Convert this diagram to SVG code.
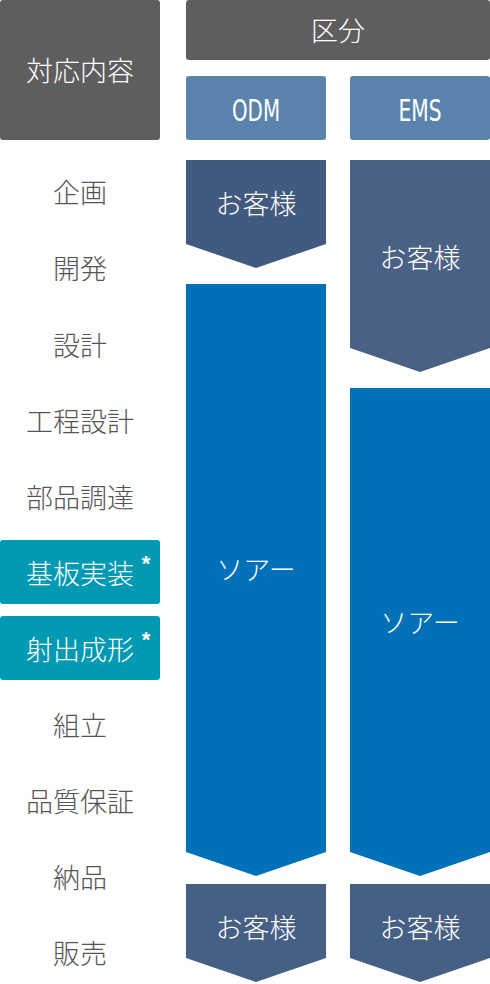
<svg xmlns="http://www.w3.org/2000/svg" width="490" height="984" viewBox="0 0 490 984">
<style>
.t{font-family:"Noto Sans CJK JP","Noto Sans",sans-serif;font-size:27px;font-weight:300;text-anchor:middle;dominant-baseline:central}
.w{fill:#ffffff}
.g{fill:#555555}
.hd{fill:#5e5e5e}
.sub{fill:#5b84ad}
.cu{fill:#465f85}
.so{fill:#0070b9}
.tl{fill:#0099b3}
.lat{font-family:"Liberation Sans Narrow","DejaVu Sans Condensed","Liberation Sans",sans-serif;font-size:30px;text-anchor:middle;fill:#fff}
.ast{font-family:"Liberation Sans",sans-serif;font-size:22px;font-weight:bold;text-anchor:middle;fill:#fff}
</style>
<g id="header-content"><rect class="hd" x="0" y="0" width="160" height="140" rx="3"/><text class="t w" x="80" y="69">対応内容</text></g>
<g id="header-kubun"><rect class="hd" x="186" y="0" width="304" height="60" rx="3"/><text class="t w" x="338" y="29">区分</text></g>
<g id="odm"><rect class="sub" x="186" y="76" width="140" height="64" rx="3"/><text class="lat" x="256" y="121" textLength="48" lengthAdjust="spacingAndGlyphs">ODM</text></g>
<g id="ems"><rect class="sub" x="350" y="76" width="140" height="64" rx="3"/><text class="lat" x="420" y="121" textLength="43" lengthAdjust="spacingAndGlyphs">EMS</text></g>
<g id="steps">
<text class="t g" x="80" y="191">企画</text>
<text class="t g" x="80" y="267">開発</text>
<text class="t g" x="80" y="344">設計</text>
<text class="t g" x="80" y="420">工程設計</text>
<text class="t g" x="80" y="496">部品調達</text>
<g id="kiban"><rect class="tl" x="0" y="540" width="160" height="64" rx="3"/><text class="t w" x="80" y="572">基板実装</text><text class="ast" x="146" y="571">*</text></g>
<g id="shashutsu"><rect class="tl" x="0" y="616" width="160" height="64" rx="3"/><text class="t w" x="80" y="648">射出成形</text><text class="ast" x="146" y="647">*</text></g>
<text class="t g" x="80" y="724">組立</text>
<text class="t g" x="80" y="800">品質保証</text>
<text class="t g" x="80" y="876">納品</text>
<text class="t g" x="80" y="952">販売</text>
</g>
<g id="odm-customer1"><polygon fill="#415a80" points="186,160 326,160 326,244 256,268 186,244"/><text class="t w" x="256" y="202">お客様</text></g>
<g id="ems-customer1"><polygon fill="#4a6186" points="350,160 490,160 490,348 420,372 350,348"/><text class="t w" x="420" y="256">お客様</text></g>
<g id="odm-soar"><polygon class="so" points="186,284 326,284 326,852 256,876 186,852"/><text class="t w" x="256" y="568">ソアー</text></g>
<g id="ems-soar"><polygon class="so" points="350,388 490,388 490,852 420,876 350,852"/><text class="t w" x="420" y="621">ソアー</text></g>
<g id="odm-customer2"><polygon class="cu" points="186,884 326,884 326,958 256,982 186,958"/><text class="t w" x="256" y="926">お客様</text></g>
<g id="ems-customer2"><polygon class="cu" points="350,884 490,884 490,958 420,982 350,958"/><text class="t w" x="420" y="926">お客様</text></g>
<g id="connectors"/>
</svg>
